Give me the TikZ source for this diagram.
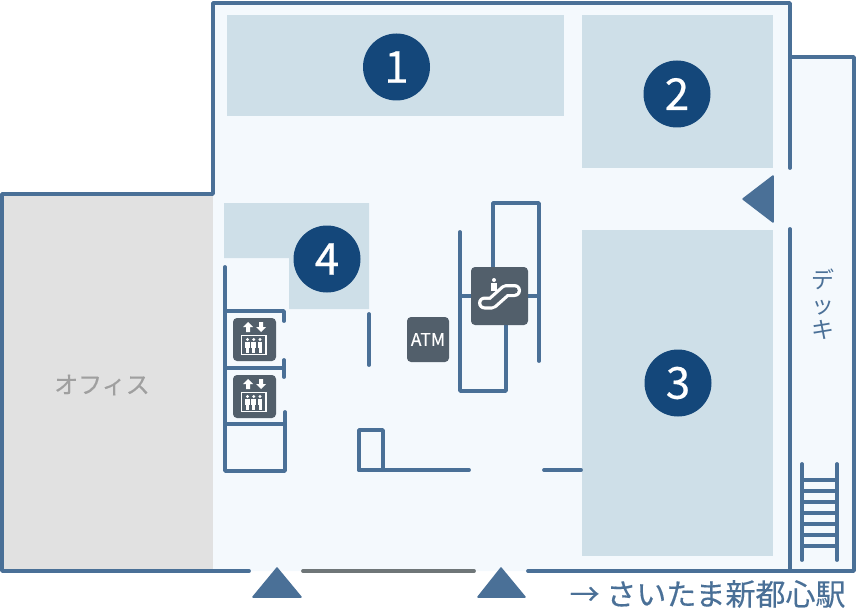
\documentclass[tikz,border=0pt]{standalone}
\usepackage{fontspec}
\setmainfont{Noto Sans CJK JP}
\newfontfamily\heavyfont[FakeBold=0.4]{Noto Sans CJK JP}
\tikzset{
  wall/.style={draw=wallblue,line width=3.8pt,line cap=round,line join=round},
  shop/.style={fill=shopblue},
  badge/.style={circle,fill=badgeblue,text=white,minimum size=67pt,inner sep=0pt,font=\heavyfont\fontsize{44}{44}\selectfont},
  entry/.style={fill=wallblue,draw=wallblue,line width=1.5pt,line join=round},
  iconbox/.style={fill=icongrey,rounded corners=4pt},
  iconline/.style={draw=white,line width=1.3pt}
}
\definecolor{wallblue}{HTML}{4A7097}
\definecolor{shopblue}{HTML}{CEDFE8}
\definecolor{badgeblue}{HTML}{14477A}
\definecolor{floorblue}{HTML}{F4F9FD}
\definecolor{officegrey}{HTML}{E1E1E1}
\definecolor{icongrey}{HTML}{525F6B}
\definecolor{doorgrey}{HTML}{6F7678}
% one lift icon, #1 is its top edge
\newcommand{\lifticon}[1]{
  \fill[iconbox] (233,#1) rectangle (276,#1+43);
  \fill[white] (248,#1+4) -- (253,#1+9) -- (250,#1+9) -- (250,#1+14) -- (246,#1+14) -- (246,#1+9) -- (243,#1+9) -- cycle;
  \fill[white] (261,#1+14) -- (256,#1+9) -- (259,#1+9) -- (259,#1+4) -- (263,#1+4) -- (263,#1+9) -- (266,#1+9) -- cycle;
  \draw[iconline] (241.5,#1+17.5) rectangle (266,#1+36.5);
  \foreach \px in {247.5,253.8,260}{
    \fill[white] (\px,#1+21.5) circle (1.6pt);
    \fill[white] (\px-2.4,#1+24) rectangle (\px+2.4,#1+30);
    \fill[white] (\px-1.5,#1+30) rectangle (\px+1.5,#1+34.5);
  }
}
\begin{document}
\begin{tikzpicture}[x=1pt,y=-1pt]
  \useasboundingbox (0,0) rectangle (857,615);
  % floors
  \fill[floorblue] (213,3) -- (790,3) -- (790,57) -- (854,57) -- (854,571) -- (213,571) -- cycle;
  \fill[officegrey] (2,194) rectangle (213,571);
  % shops
  \fill[shop] (227,15) rectangle (564,116);
  \fill[shop] (582,15) rectangle (773,168);
  \fill[shop] (582,230) rectangle (773,556);
  \fill[shop] (224,203) -- (369,203) -- (369,309) -- (289,309) -- (289,258) -- (224,258) -- cycle;
  % outer walls
  \draw[wall] (249,571) -- (2,571) -- (2,194) -- (213,194) -- (213,3) -- (790,3) -- (790,168);
  \draw[wall] (790,229) -- (790,571);
  \draw[wall] (790,57) -- (854,57) -- (854,571) -- (528,571);
  \draw[draw=doorgrey,line width=3.8pt,line cap=round] (303,571) -- (474,571);
  % lift walls
  \draw[wall] (225,267) -- (225,471) -- (285,471) -- (285,412);
  \draw[wall] (225,311) -- (284,311) -- (284,321);
  \draw[wall] (225,368) -- (284,368);
  \draw[wall] (284,360) -- (284,377);
  \draw[wall] (225,424) -- (285,424);
  % inner walls
  \draw[wall] (369,314) -- (369,365);
  \draw[wall] (359,470) -- (359,430) -- (383,430) -- (383,470);
  \draw[wall] (359,470) -- (469,470);
  \draw[wall] (544,470) -- (581,470);
  % escalator walls
  \draw[wall] (460,232) -- (460,391) -- (506,391) -- (506,320);
  \draw[wall] (460,296) -- (539,296);
  \draw[wall] (493,280) -- (493,203) -- (539,203) -- (539,361);
  % stairs
  \draw[wall] (802,464) -- (802,560);
  \draw[wall] (837,464) -- (837,560);
  \foreach \ry in {480,491,502,513,524,535,546}
    \draw[draw=wallblue,line width=3.8pt] (802,\ry) -- (837,\ry);
  % entrances
  \fill[entry] (277,568) -- (301,597) -- (253,597) -- cycle;
  \fill[entry] (501,568) -- (525,597) -- (478,597) -- cycle;
  \fill[entry] (743,199) -- (773,176) -- (773,222) -- cycle;
  % icons
  \lifticon{318}
  \lifticon{375}
  \fill[iconbox] (407,317) rectangle (449,362);
  \node[text=white,font=\heavyfont\fontsize{17.5}{17.5}\selectfont] (atm) at (428,339.5) {ATM};
  \fill[iconbox] (471,267) rectangle (528,325);
  \fill[white] (494,280) circle (2pt);
  \fill[white] (491,283) rectangle (497,291);
  \draw[white,line width=13pt,line cap=round,line join=round] (484.5,303) -- (492,303) -- (506,290.5) -- (514.5,290.5);
  \draw[icongrey,line width=6.5pt,line cap=round,line join=round] (484.5,303) -- (492,303) -- (506,290.5) -- (514.5,290.5);
  % labels
  \node[badge] (shopa) at (396.5,67) {1};
  \node[badge] (shopb) at (677,94) {2};
  \node[badge] (shopc) at (678,383) {3};
  \node[badge] (shopd) at (327,259) {4};
  \node[text=gray!75,font=\heavyfont\fontsize{24}{24}\selectfont] (office) at (102,385) {オフィス};
  \node[text=wallblue,font=\fontsize{23}{25}\selectfont,align=center] (deck) at (823,304) {デ\\ッ\\キ};
  \node[text=wallblue,font=\heavyfont\fontsize{30}{30}\selectfont,anchor=east] (station) at (849,594) {→ さいたま新都心駅};
\end{tikzpicture}
\end{document}
